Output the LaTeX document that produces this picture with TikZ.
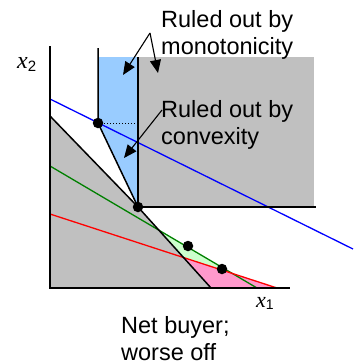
\documentclass[tikz,border=0pt]{standalone}
\usepackage{fontspec}
\setmainfont{Liberation Sans}
\newfontfamily\tms{Liberation Serif}
\usetikzlibrary{arrows.meta}
\definecolor{grayfill}{HTML}{C0C0C0}
\definecolor{lblue}{HTML}{99CCFF}
\definecolor{lgreen}{HTML}{CCFFCC}
\definecolor{pinkf}{HTML}{FF99CC}
\definecolor{dgreen}{HTML}{008000}
\begin{document}
\begin{tikzpicture}[x=1pt,y=-1pt,
  ax/.style={line width=1.5pt},
  cl/.style={line width=1.3pt},
  dot/.style={circle,fill=black,inner sep=0pt,minimum size=10.5pt},
  lbl/.style={font=\fontsize{23.5}{27.5}\selectfont,align=left,inner sep=0pt,anchor=base west},
  axlbl/.style={inner sep=0pt,anchor=base west},
  arr/.style={line width=1.1pt,-{Triangle[length=13pt,width=11pt]}}]
\useasboundingbox (0,0) rectangle (359,364);
% key points
\coordinate (O) at (50,288);
\coordinate (Ytop) at (50,46);
\coordinate (Xend) at (290,288);
\coordinate (K0) at (50,116);
\coordinate (K2) at (211,288);
\coordinate (V1top) at (98,48);
\coordinate (V2top) at (138,57);
\coordinate (Hend) at (316,207);
\coordinate (BGI) at (158.8,229.8);
\coordinate (GRI) at (232.5,273.5);
\coordinate (BRI) at (183.5,257.5);
% regions
\fill[grayfill] (K0) -- (138,207) -- (K2) -- (O) -- cycle;
\fill[grayfill] (V2top) rectangle (314,207);
\fill[lblue] (98,57) -- (V2top) -- (138,207) -- (98,123) -- cycle;
\fill[lgreen] (BGI) -- (GRI) -- (BRI) -- cycle;
\fill[pinkf] (BRI) -- (277,288) -- (K2) -- cycle;
% budget lines
\draw[cl,blue] (50,99) -- (353,249);
\draw[cl,dgreen] (50,166) -- (257,288);
\draw[cl,red] (50,214) -- (277,288);
% dots
\node[dot] (d1) at (98,123) {};
\node[dot] (d2) at (138,207) {};
\node[dot] (d3) at (188,246) {};
\node[dot] (d4) at (222,269) {};
% black lines
\draw[ax] (Ytop) -- (O) -- (Xend);
\draw[ax] (K0) -- (d2.center) -- (K2);
\draw[ax] (V1top) -- (d1.center) -- (d2.center);
\draw[ax] (V2top) -- (d2.center) -- (Hend);
\draw[line width=1pt,dotted] (d1.center) -- (138,123);
% axis labels
\node[axlbl] (lx2) at (17,68) {\fontsize{24}{24}\selectfont{\tms\itshape x}\raisebox{-0.25ex}{\fontsize{15}{15}\selectfont 2}};
\node[axlbl] (lx1) at (256,307) {\fontsize{22}{22}\selectfont{\tms\itshape x}\raisebox{-0.25ex}{\fontsize{14}{14}\selectfont 1}};
% text
\node[lbl] (mono) at (161,54.5) {Ruled out by\\monotonicity};
\node[lbl] (conv) at (161,144.5) {Ruled out by\\convexity};
\node[lbl] (net) at (121,360.5) {Net buyer;\\worse off};
% arrows
\coordinate (m0) at (150,33);
\coordinate (m1) at (123,75);
\coordinate (m2) at (158,73);
\coordinate (c0) at (162,110);
\coordinate (c1) at (124,158);
\draw[arr] (m0) -- (m1);
\draw[arr] (m0) -- (m2);
\draw[arr] (c0) -- (c1);
\end{tikzpicture}
\end{document}
